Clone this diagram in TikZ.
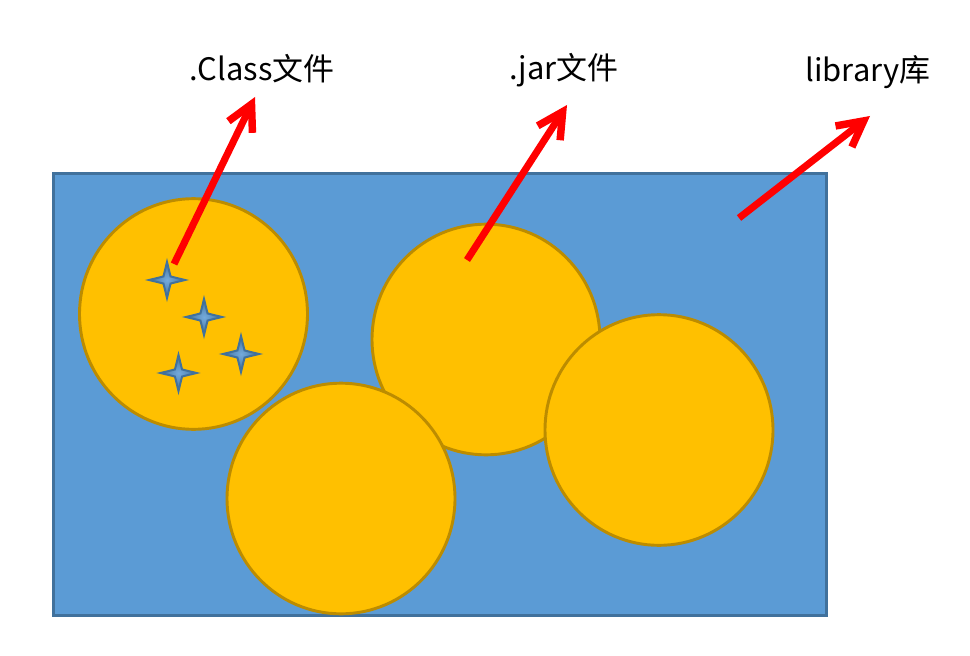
\documentclass[tikz,border=0pt]{standalone}
\usepackage{fontspec}
\setmainfont{Noto Sans CJK SC}
\usetikzlibrary{shapes.geometric,arrows.meta}
\definecolor{boxblue}{HTML}{5B9BD5}
\definecolor{boxedge}{HTML}{41719C}
\definecolor{jargold}{HTML}{FFC000}
\definecolor{jaredge}{HTML}{BC8C00}
\tikzset{
    jarfile/.style={draw=jaredge, fill=jargold, line width=2.2pt, shape=ellipse, inner sep=0pt, minimum width=171pt, minimum height=173pt},
    classfile/.style={draw=boxedge, inner color=boxblue!85!white, outer color=boxedge, line width=1.5pt, shape=star, star points=4, star point ratio=3.6, inner sep=0pt, minimum size=27pt},
    caption/.style={font=\fontsize{23.2}{27}\selectfont},
    pointer/.style={draw=red, line width=5.3pt, -{Straight Barb[length=19pt, width=20pt, line width=5.6pt]}}
}
\begin{document}
\begin{tikzpicture}[x=0.75pt, y=-0.75pt]
    \useasboundingbox (0,0) rectangle (970,656);
    \node [draw=boxedge, fill=boxblue, line width=2.4pt, minimum width=580pt, minimum height=332pt, inner sep=0pt] (library) at (440,394.5) {};

    \node [jarfile] (jarA) at (193.5,314) {};
    \node [jarfile] (jarB) at (486,339.5) {};
    \node [jarfile] (jarC) at (341,498.5) {};
    \node [jarfile] (jarD) at (659,430) {};

    \node [classfile] (classA) at (167,280) {};
    \node [classfile] (classB) at (204,317) {};
    \node [classfile] (classC) at (241,354) {};
    \node [classfile] (classD) at (178.5,373) {};

    \node [caption] (classText) at (262,69) {.Class文件};
    \node [caption] (jarText) at (564,70) {.jar文件};
    \node [caption] (libText) at (868,72) {library库};

    % free ends of the red arrows
    \coordinate (classStart) at (174,264);
    \coordinate (classTip) at (255,97);
    \coordinate (jarStart) at (467,260);
    \coordinate (jarTip) at (567,105);
    \coordinate (libStart) at (739,218);
    \coordinate (libTip) at (870,116);

    \draw [pointer] (classStart) -- (classTip);
    \draw [pointer] (jarStart) -- (jarTip);
    \draw [pointer] (libStart) -- (libTip);
\end{tikzpicture}
\end{document}
